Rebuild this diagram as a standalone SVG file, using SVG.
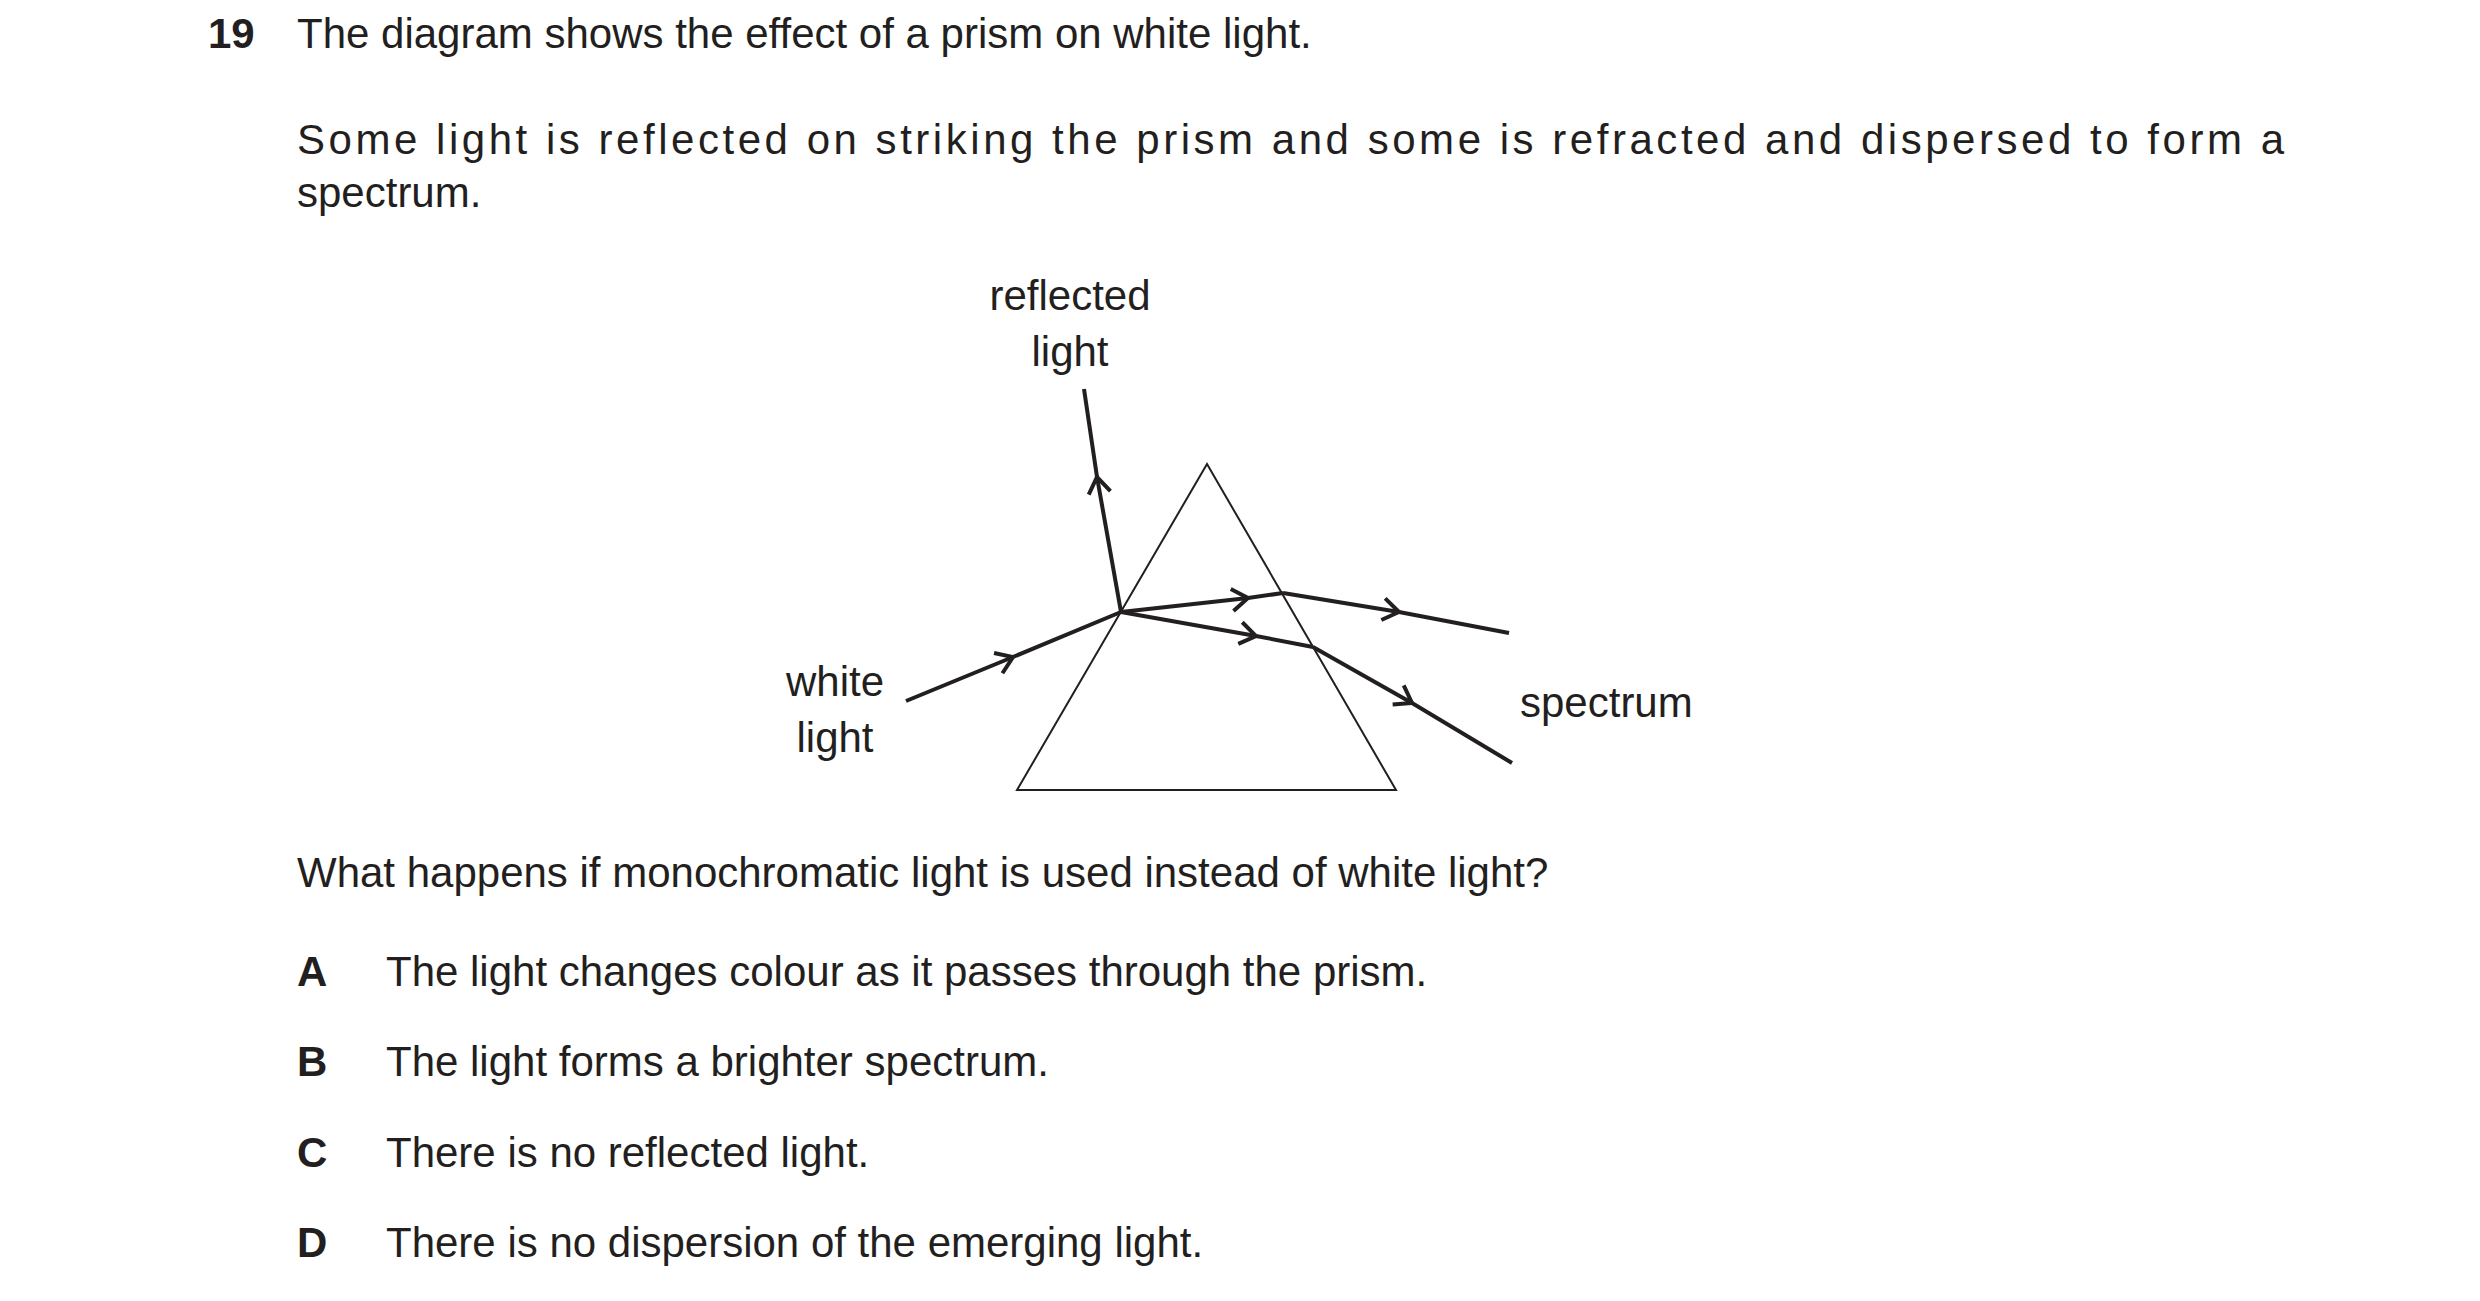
<svg xmlns="http://www.w3.org/2000/svg" width="2480" height="1301" viewBox="0 0 2480 1301">
<style>
text{font-family:"Liberation Sans",Arial,sans-serif;font-size:42px;fill:#231f20}
.b{font-weight:bold}
.ray{fill:none;stroke:#231f20;stroke-width:4;marker-mid:url(#chev)}
</style>
<defs>
<marker id="chev" markerUnits="userSpaceOnUse" viewBox="-20 -14 24 28" markerWidth="24" markerHeight="28" refX="0" refY="0" orient="auto">
<path d="M-16,-11 L0,0 L-16,11" fill="none" stroke="#231f20" stroke-width="4"/>
</marker>
</defs>
<rect width="2480" height="1301" fill="#fff"/>
<text x="208" y="48" class="b">19</text>
<text x="297" y="48">The diagram shows the effect of a prism on white light.</text>
<text x="297" y="154" textLength="1987" lengthAdjust="spacing">Some light is reflected on striking the prism and some is refracted and dispersed to form a</text>
<text x="297" y="207">spectrum.</text>
<g id="prism"><polygon points="1207,464 1017,790 1396,790" fill="none" stroke="#231f20" stroke-width="2"/></g>
<g id="connectors">
<path class="ray" d="M1121,612 L1097,477 L1084,389"/>
<path class="ray" d="M906,701 L1013,657 L1121,612"/>
<path class="ray" d="M1121,612 L1248,598 L1283,593"/>
<path class="ray" d="M1283,593 L1399,612 L1509,633"/>
<path class="ray" d="M1121,612 L1256,636 L1313,647"/>
<path class="ray" d="M1313,647 L1412,703 L1512,763"/>
</g>
<g id="labels">
<text x="1070" y="310" text-anchor="middle">reflected</text>
<text x="1070" y="366" text-anchor="middle">light</text>
<text x="835" y="696" text-anchor="middle">white</text>
<text x="835" y="752" text-anchor="middle">light</text>
<text x="1520" y="717">spectrum</text>
</g>
<text x="297" y="887">What happens if monochromatic light is used instead of white light?</text>
<text x="297" y="986" class="b">A</text><text x="386" y="986">The light changes colour as it passes through the prism.</text>
<text x="297" y="1076" class="b">B</text><text x="386" y="1076">The light forms a brighter spectrum.</text>
<text x="297" y="1167" class="b">C</text><text x="386" y="1167">There is no reflected light.</text>
<text x="297" y="1257" class="b">D</text><text x="386" y="1257">There is no dispersion of the emerging light.</text>
</svg>
